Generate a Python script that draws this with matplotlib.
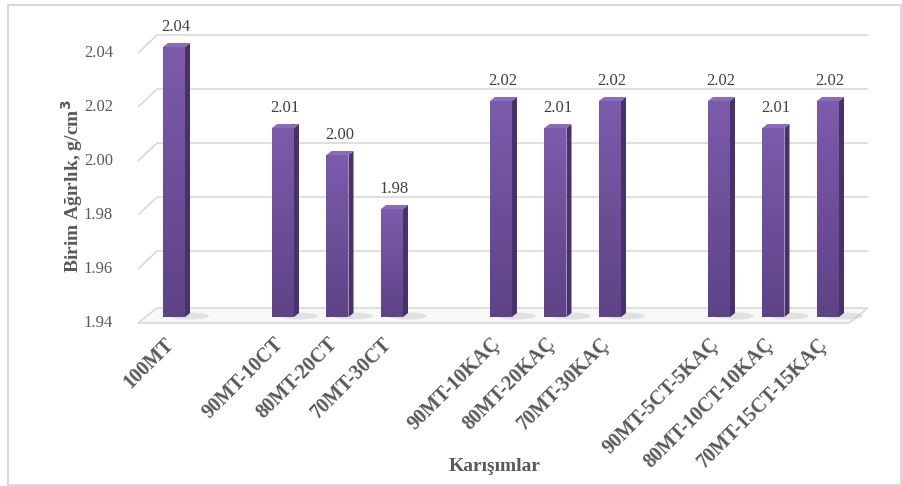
import numpy as np
import matplotlib
matplotlib.use('Agg')
import matplotlib.pyplot as plt
from matplotlib.patches import Polygon, Rectangle, Ellipse
from matplotlib.colors import LinearSegmentedColormap

# Data (empty slots = gaps between groups)
categories = ['100MT', '', '90MT-10CT', '80MT-20CT', '70MT-30CT', '',
              '90MT-10KAÇ', '80MT-20KAÇ', '70MT-30KAÇ', '',
              '90MT-5CT-5KAÇ', '80MT-10CT-10KAÇ', '70MT-15CT-15KAÇ']
values = [2.04, None, 2.01, 2.00, 1.98, None,
          2.02, 2.01, 2.02, None,
          2.02, 2.01, 2.02]
yticks = [1.94, 1.96, 1.98, 2.00, 2.02, 2.04]
ylabel = 'Birim Ağırlık, g/cm$^\\mathbf{3}$'
xlabel = 'Karışımlar'

W, H = 903, 486
fig = plt.figure(figsize=(W / 100, H / 100), dpi=100)

# pixel <-> data helpers (slot width 54.5 px, 0.1 units = 270 px)
PX_X = 1 / 54.5
PX_Y = 0.1 / 270
def dx(p):
    return (p - 174) * PX_X
def dy(p):
    return 2.04 - (p - 47) * PX_Y

left_px, right_px, top_px, bot_px = 100, 890, 10, 345
ax = fig.add_axes([left_px / W, 1 - bot_px / H, (right_px - left_px) / W, (bot_px - top_px) / H])
ax.set_xlim(dx(left_px), dx(right_px))
ax.set_ylim(dy(bot_px), dy(top_px))
ax.axis('off')

ymin = yticks[0]
back = 12 * PX_Y
front = -6 * PX_Y
xl_front, xl_back = dx(138), dx(157)
xr_back, xr_front = dx(868), dx(849)

# floor
floor = Polygon([(xl_front, ymin + front), (xl_back, ymin + back * 0.75),
                 (xr_back, ymin + back * 0.75), (xr_front, ymin + front)],
                closed=True, facecolor='#f8f8f8', edgecolor='#d9d9d9', lw=1.2, zorder=1)
ax.add_patch(floor)

# gridlines (back wall) with perspective diagonal
for t in yticks[1:]:
    ax.plot([xl_front, xl_back, xr_back], [t + front, t + back, t + back],
            color='#d9d9d9', lw=1.2, zorder=0.5, solid_capstyle='butt')

for t in yticks:
    ax.text(dx(113), t + front, f'{t:.2f}', ha='right', va='center',
            fontsize=12, color='#595959', family='Liberation Serif')

# bars
bw = 22 * PX_X
sdx = 5 * PX_X
sdy = 4 * PX_Y
cmap = LinearSegmentedColormap.from_list('p', ['#5e4387', '#7c5bab'])
grad = np.linspace(0, 1, 100).reshape(-1, 1)
for i, v in enumerate(values):
    if v is None:
        continue
    x0, x1 = i - bw / 2, i + bw / 2
    # shadow
    ax.add_patch(Ellipse((x1 + 4 * PX_X, ymin + 1 * PX_Y), 40 * PX_X, 7 * PX_Y,
                         facecolor='#c0c0c0', alpha=0.4, edgecolor='none', zorder=1.5))
    rect = Rectangle((x0, ymin), bw, v - ymin, facecolor='#6e4f9e', edgecolor='none', zorder=2)
    ax.add_patch(rect)
    im = ax.imshow(grad, extent=[x0, x1, ymin, v], origin='lower', cmap=cmap,
                   aspect='auto', zorder=2.1)
    im.set_clip_path(rect)
    side = Polygon([(x1, ymin), (x1 + sdx, ymin + sdy), (x1 + sdx, v + sdy), (x1, v)],
                   closed=True, facecolor='#48316c', edgecolor='none', zorder=2.2)
    top = Polygon([(x0, v), (x0 + sdx, v + sdy), (x1 + sdx, v + sdy), (x1, v)],
                  closed=True, facecolor='#8a6cba', edgecolor='none', zorder=2.3)
    ax.add_patch(side)
    ax.add_patch(top)
    ax.text(i + 2 * PX_X, v + 20 * PX_Y, f'{v:.2f}', ha='center', va='center',
            fontsize=12, color='#404040', family='Liberation Serif')

ax.set_xlim(dx(left_px), dx(right_px))
ax.set_ylim(dy(bot_px), dy(top_px))

# category labels
for i, c in enumerate(categories):
    if not c:
        continue
    ax.text(i - 3 * PX_X, dy(341), c, rotation=45, rotation_mode='anchor',
            ha='right', va='center', fontsize=14.5, fontweight='bold',
            color='#595959', family='Liberation Serif', clip_on=False)

fig.text(72 / W, 1 - 186 / H, ylabel, rotation=90, ha='center', va='center',
         fontsize=14, fontweight='bold', color='#595959', family='Liberation Serif')
fig.text(495 / W, 1 - 466 / H, xlabel, ha='center', va='center',
         fontsize=14, fontweight='bold', color='#595959', family='Liberation Serif')

fig.patches.append(Rectangle((8 / W, 1 / H), 893 / W, 480 / H, transform=fig.transFigure,
                             fill=False, edgecolor='#d9d9d9', lw=1.5))

fig.savefig('out.png', dpi=100)
